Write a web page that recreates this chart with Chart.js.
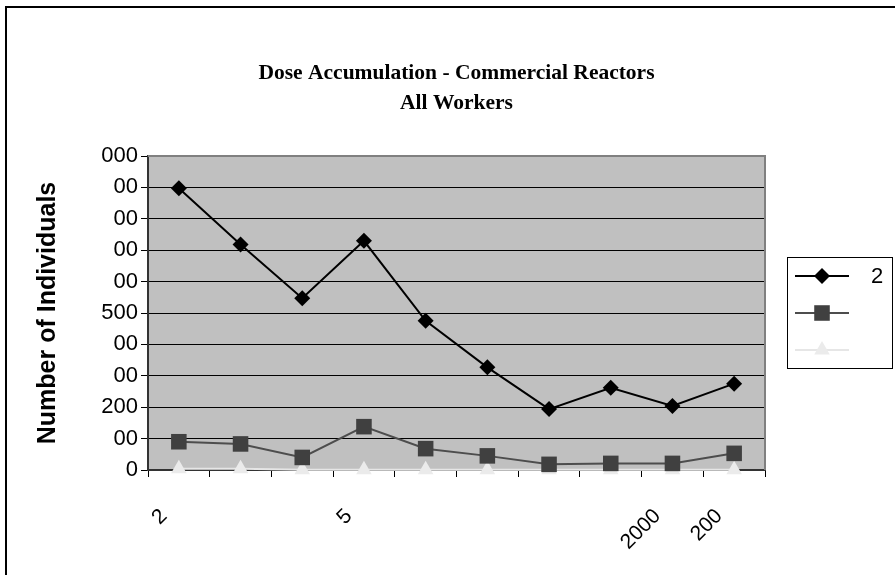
<!DOCTYPE html>
<html>
<head>
<meta charset="utf-8">
<title>Dose Accumulation - Commercial Reactors</title>
<script src="https://cdn.jsdelivr.net/npm/chart.js@4"></script>
<style>
  html, body { margin: 0; padding: 0; background: #fff; }
  canvas { display: block; }
</style>
</head>
<body>
<canvas id="doseChart" width="895" height="575"></canvas>
<script>
// Datos
const categories = ['2', '', '', '5', '', '', '', '', '2000', '200'];
const seriesNames = ['2', '', ''];
const serie1 = [897, 718, 547, 730, 475, 327, 194, 262, 204, 275];
const serie2 = [90, 83, 40, 138, 68, 45, 18, 21, 21, 53];
const serie3 = [4, 4, 1, 1, 1, 1, 1, 1, 1, 1];
const yTickLabels = ['0', '00', '200', '00', '00', '500', '00', '00', '00', '00', '000'];

const sansFont = 'Arial, "Liberation Sans", sans-serif';
const serifFont = '"Times New Roman", "Liberation Serif", serif';

// fondo, marco exterior y area gris
const backgroundPlugin = {
    id: 'background',
    beforeDraw(chart) {
        const { ctx, chartArea: a } = chart;
        ctx.save();
        ctx.fillStyle = '#ffffff';
        ctx.fillRect(0, 0, chart.width, chart.height);
        ctx.strokeStyle = '#000000';
        ctx.lineWidth = 2;
        ctx.beginPath();
        ctx.moveTo(6, chart.height);
        ctx.lineTo(6, 7);
        ctx.lineTo(chart.width, 7);
        ctx.stroke();
        ctx.fillStyle = '#c0c0c0';
        ctx.fillRect(a.left, a.top, a.right - a.left, a.bottom - a.top);
        ctx.restore();
    },
    beforeDatasetsDraw(chart) {
        const { ctx, chartArea: a } = chart;
        ctx.save();
        ctx.strokeStyle = '#808080';
        ctx.lineWidth = 2;
        ctx.beginPath();
        ctx.moveTo(a.left, a.top);
        ctx.lineTo(a.right, a.top);
        ctx.lineTo(a.right, a.bottom);
        ctx.stroke();
        ctx.restore();
    }
};

// leyenda con linea y marcador
const legendPlugin = {
    id: 'boxLegend',
    afterDraw(chart) {
        const { ctx } = chart;
        const box = { left: 787, top: 257, right: 892, bottom: 368 };
        ctx.save();
        ctx.fillStyle = '#ffffff';
        ctx.fillRect(box.left, box.top, box.right - box.left, box.bottom - box.top);
        ctx.strokeStyle = '#000000';
        ctx.lineWidth = 1;
        ctx.strokeRect(box.left + 0.5, box.top + 0.5, box.right - box.left, box.bottom - box.top);
        chart.data.datasets.forEach((ds, i) => {
            const y = 276 + i * 37;
            ctx.strokeStyle = ds.borderColor;
            ctx.lineWidth = ds.borderWidth;
            ctx.beginPath();
            ctx.moveTo(795, y);
            ctx.lineTo(849, y);
            ctx.stroke();
            ctx.fillStyle = ds.pointBackgroundColor;
            ctx.strokeStyle = ds.pointBorderColor;
            Chart.helpers.drawPoint(ctx, {
                pointStyle: ds.pointStyle,
                radius: ds.pointRadius,
                rotation: 0,
                borderWidth: 0
            }, 822, y);
            ctx.fillStyle = '#000000';
            ctx.font = '22px ' + sansFont;
            ctx.textBaseline = 'middle';
            ctx.textAlign = 'left';
            ctx.fillText(ds.label, 871, y + 1);
        });
        ctx.restore();
    }
};

document.addEventListener('DOMContentLoaded', function () {
    const ctx = document.getElementById('doseChart');
    new Chart(ctx, {
        type: 'line',
        data: {
            labels: categories,
            datasets: [{
                label: seriesNames[0],
                data: serie1,
                borderColor: '#000000',
                borderWidth: 2,
                pointStyle: 'rectRot',
                pointRadius: 8,
                pointBackgroundColor: '#000000',
                pointBorderColor: '#000000',
                pointBorderWidth: 0,
                tension: 0,
                clip: false
            }, {
                label: seriesNames[1],
                data: serie2,
                borderColor: '#4d4d4d',
                borderWidth: 2,
                pointStyle: 'rect',
                pointRadius: 11,
                pointBackgroundColor: '#404040',
                pointBorderColor: '#404040',
                pointBorderWidth: 0,
                tension: 0,
                clip: false
            }, {
                label: seriesNames[2],
                data: serie3,
                borderColor: '#e6e6e6',
                borderWidth: 2,
                pointStyle: 'triangle',
                pointRadius: 9,
                pointBackgroundColor: '#ebebeb',
                pointBorderColor: '#ebebeb',
                pointBorderWidth: 0,
                tension: 0,
                clip: false
            }]
        },
        options: {
            responsive: false,
            animation: false,
            devicePixelRatio: 1,
            layout: { padding: { left: 0, right: 130, top: 0, bottom: 0 } },
            plugins: {
                legend: { display: false },
                tooltip: { enabled: false },
                title: {
                    display: true,
                    fullSize: false,
                    text: ['Dose Accumulation - Commercial Reactors', 'All Workers'],
                    color: '#000000',
                    font: { family: serifFont, size: 21.5, weight: 'bold', lineHeight: 1.4 },
                    padding: { top: 58, bottom: 37.8 }
                }
            },
            scales: {
                x: {
                    offset: true,
                    grid: { drawOnChartArea: false, drawTicks: true, tickLength: 7, tickColor: '#000000', offset: true },
                    border: { color: '#333333', width: 2 },
                    ticks: {
                        autoSkip: false,
                        maxRotation: 45,
                        minRotation: 45,
                        color: '#000000',
                        padding: 27,
                        labelOffset: -15,
                        font: { family: sansFont, size: 21 }
                    },
                    afterFit(scale) { scale.height = 105; }
                },
                y: {
                    min: 0,
                    max: 1000,
                    grid: { color: '#000000', lineWidth: 1, tickLength: 7, tickColor: '#000000' },
                    border: { color: '#333333', width: 2 },
                    ticks: {
                        stepSize: 100,
                        color: '#000000',
                        padding: 3,
                        font: { family: sansFont, size: 22 },
                        callback: (value, index) => yTickLabels[index]
                    },
                    title: {
                        display: true,
                        text: 'Number of Individuals',
                        color: '#000000',
                        font: { family: sansFont, size: 25, weight: 'bold' },
                        padding: { top: 33, bottom: 0 }
                    },
                    afterFit(scale) { scale.width = 148; }
                }
            }
        },
        plugins: [backgroundPlugin, legendPlugin]
    });
});
</script>
</body>
</html>
